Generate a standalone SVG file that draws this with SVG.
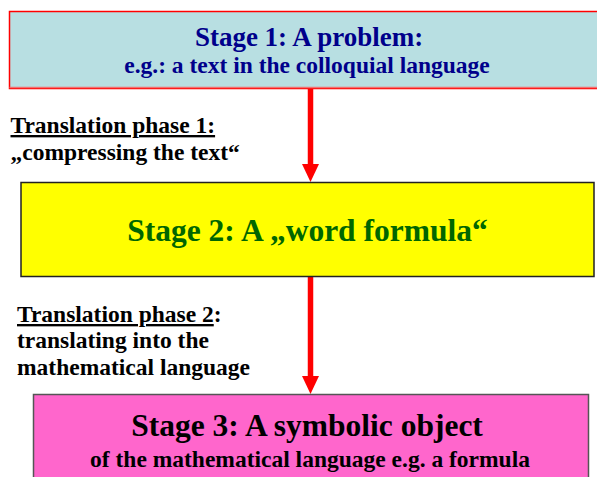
<svg xmlns="http://www.w3.org/2000/svg" width="597" height="477" viewBox="0 0 597 477">
<style>
text{font-family:"Liberation Serif","Times New Roman",serif;font-weight:bold}
.title{text-anchor:middle;font-size:31.5px}
.sub{text-anchor:middle;font-size:23.5px}
.lbl{font-size:23.5px;fill:#000}
.u{text-decoration:underline}
.arrow{stroke:#ff0000;stroke-width:5.5;fill:none}
</style>
<defs>
<marker id="ah" viewBox="0 0 18 17" refX="2" refY="8.5" markerWidth="18" markerHeight="17" markerUnits="userSpaceOnUse" orient="auto">
<path d="M0,0 L18,8.5 L0,17 z" fill="#ff0000"/>
</marker>
</defs>
<rect width="597" height="477" fill="#ffffff"/>
<g id="connectors">
<line class="arrow" x1="310.5" y1="88" x2="310.5" y2="166" marker-end="url(#ah)"/>
<line class="arrow" x1="310.5" y1="277" x2="310.5" y2="378" marker-end="url(#ah)"/>
</g>
<g id="stage1">
<rect x="9.5" y="11.5" width="600" height="77" fill="#b8dfe2" stroke="#ff0000" stroke-width="1.5"/>
<line x1="9.5" y1="87.5" x2="597" y2="87.5" stroke="#f07070" stroke-width="1.5"/>
<text x="309" y="46" font-size="27" text-anchor="middle" fill="#00008b">Stage 1: A problem:</text>
<text class="sub" x="307" y="73" fill="#00008b">e.g.: a text in the colloquial language</text>
</g>
<g id="phase1">
<text class="lbl u" x="10.5" y="133">Translation phase 1:</text>
<text class="lbl" x="10.5" y="160">„compressing the text“</text>
</g>
<g id="stage2">
<rect x="21" y="182.5" width="573" height="94" fill="#ffff00" stroke="#222" stroke-width="1.5"/>
<text class="title" x="307.5" y="241" fill="#006600">Stage 2: A „word formula“</text>
</g>
<g id="phase2">
<text class="lbl" x="17" y="322"><tspan class="u">Translation phase 2</tspan>:</text>
<text class="lbl" x="17" y="348">translating into the</text>
<text class="lbl" x="17" y="375">mathematical language</text>
</g>
<g id="stage3">
<rect x="33.5" y="394.5" width="555" height="100" fill="#ff66cc" stroke="#555" stroke-width="1.5"/>
<text class="title" x="307" y="436" fill="#000">Stage 3: A symbolic object</text>
<text class="sub" x="310" y="467" fill="#000">of the mathematical language e.g. a formula</text>
</g>
</svg>
